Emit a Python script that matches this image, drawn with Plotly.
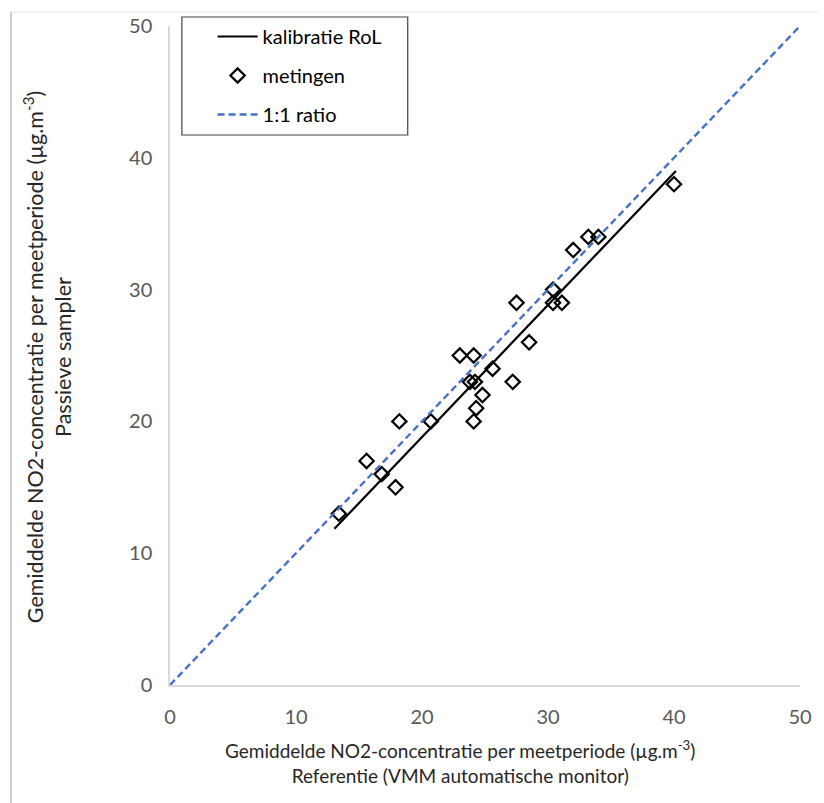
import plotly.graph_objects as go

# measured points (reference monitor vs passive sampler)
ref_x = [13.4, 15.6, 16.8, 17.9, 18.2, 20.7, 23.0, 24.1, 23.8, 24.2, 25.6, 24.8,
         24.3, 24.1, 27.2, 28.5, 27.5, 30.4, 30.4, 31.1, 32.0, 33.2, 34.0, 40.0]
sampler_y = [13.0, 17.0, 16.0, 15.0, 20.0, 20.0, 25.0, 25.0, 23.0, 23.0, 24.0, 22.0,
             21.0, 20.0, 23.0, 26.0, 29.0, 30.0, 29.0, 29.0, 33.0, 34.0, 34.0, 38.0]

# calibration line
calib_x = [13.05, 40.15]
calib_y = [11.85, 39.0]

# 1:1 line
ratio_x = [0, 50]
ratio_y = [0, 50]

tick_vals = [0, 10, 20, 30, 40, 50]

FONT = "Lato"
W, H = 824, 803
L, R, T, B = 170, 18, 26, 118
PW, PH = W - L - R, H - T - B


def px(x):
    return (x - L) / PW


def py(y):
    return (H - B - y) / PH


fig = go.Figure()
fig.add_trace(go.Scatter(x=calib_x, y=calib_y, mode="lines", name="kalibratie RoL",
                         legendgroup="a",
                         line=dict(color="black", width=2.2)))
fig.add_trace(go.Scatter(x=ref_x, y=sampler_y, mode="markers", name="metingen",
                         legendgroup="b",
                         marker=dict(symbol="diamond-open", size=11,
                                     color="black", line=dict(color="black", width=2.2))))
fig.add_trace(go.Scatter(x=ratio_x, y=ratio_y, mode="lines", name="1:1 ratio",
                         legendgroup="c",
                         line=dict(color="#4472C4", width=2.4, dash="7px,4px")))

axis_common = dict(range=[0, 50], tickvals=tick_vals, showgrid=False, zeroline=False,
                   showline=True, linecolor="#d9d9d9", linewidth=1.5,
                   tickfont=dict(family=FONT, size=20, color="#595959"),
                   ticks="", fixedrange=True)

fig.update_xaxes(**axis_common, ticklabelstandoff=13)
fig.update_yaxes(**axis_common, ticklabelstandoff=12)

fig.update_layout(
    width=W, height=H,
    margin=dict(l=L, r=R, t=T, b=B),
    paper_bgcolor="white", plot_bgcolor="white",
    showlegend=True,
    legend=dict(x=px(213), y=py(17), xanchor="left", yanchor="top",
                bgcolor="rgba(0,0,0,0)", borderwidth=0,
                font=dict(family=FONT, size=20, color="black"),
                itemwidth=40, tracegroupgap=10, traceorder="grouped"),
    shapes=[
        dict(type="rect", xref="paper", yref="paper",
             x0=px(182), x1=px(410), y0=py(135), y1=py(17),
             line=dict(color="#404040", width=1.2), fillcolor="rgba(0,0,0,0)"),
        dict(type="line", xref="paper", yref="paper",
             x0=px(9.5), x1=px(9.5), y0=py(12), y1=py(803),
             line=dict(color="#bfbfbf", width=1.5)),
        dict(type="line", xref="paper", yref="paper",
             x0=px(9.5), x1=px(824), y0=py(12), y1=py(12),
             line=dict(color="#e6e6e6", width=1)),
    ],
    annotations=[
        dict(xref="paper", yref="paper", x=px(463), y=py(762),
             xanchor="center", yanchor="middle", showarrow=False,
             text="Gemiddelde NO2-concentratie per meetperiode (µg.m<sup>-3</sup>)<br>Referentie (VMM automatische monitor)",
             font=dict(family=FONT, size=19, color="#262626")),
        dict(xref="paper", yref="paper", x=px(46), y=py(357),
             xanchor="center", yanchor="middle", showarrow=False, textangle=-90,
             text="Gemiddelde NO2-concentratie per meetperiode (µg.m<sup>-3</sup>)<br>Passieve sampler",
             font=dict(family=FONT, size=21.5, color="#262626")),
    ],
)

fig.write_html("out.html")
